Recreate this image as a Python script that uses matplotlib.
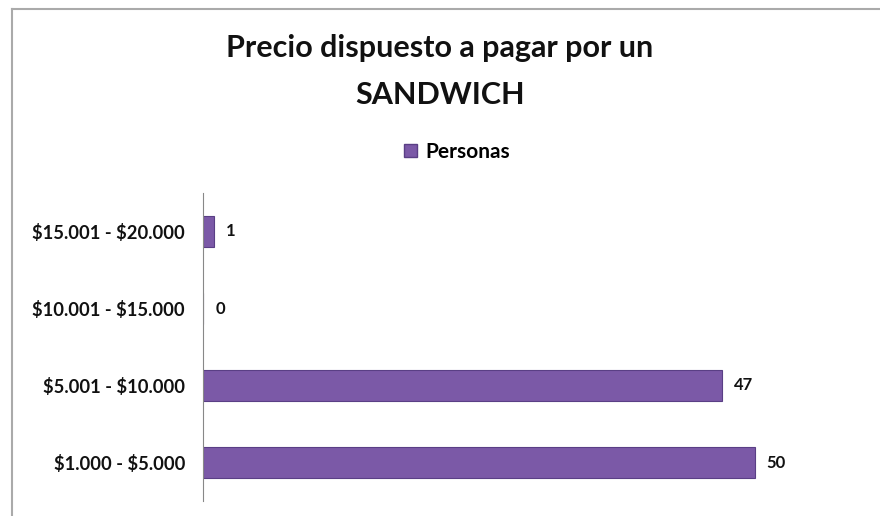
import matplotlib.pyplot as plt
from matplotlib.patches import Rectangle
from matplotlib.lines import Line2D

plt.rcParams["font.family"] = ["Lato", "DejaVu Sans"]

# data
categories = ["\\$1.000 - \\$5.000", "\\$5.001 - \\$10.000", "\\$10.001 - \\$15.000", "\\$15.001 - \\$20.000"]
personas = [50, 47, 0, 1]
series_name = "Personas"
title_lines = ["Precio dispuesto a pagar por un", "SANDWICH"]

bar_color = "#7b59a7"
edge_color = "#5a3f85"

fig = plt.figure(figsize=(8.8, 5.16), dpi=100)
ax = fig.add_axes([203 / 880, 15 / 516, (865 - 203) / 880, (501 - 193) / 516])

y = range(len(categories))
bars = ax.barh(y, personas, height=0.39, color=bar_color, edgecolor=edge_color, linewidth=0.8)

# value labels
for b, v in zip(bars, personas):
    ax.text(b.get_width() + 1.1, b.get_y() + b.get_height() / 2, str(v),
            va="center", ha="left", fontsize=12, fontweight="bold", color="#111111")

ax.set_xlim(0, 60)
ax.set_ylim(-0.5, 3.5)
ax.set_yticks(list(y))
ax.set_yticklabels(categories, fontsize=13.2, fontweight="bold", color="#111111")
ax.tick_params(axis="y", length=0, pad=13)
ax.set_xticks([])
for s in ["top", "right", "bottom"]:
    ax.spines[s].set_visible(False)
ax.spines["left"].set_color("#888888")
ax.spines["left"].set_linewidth(0.8)

# title (two lines, placed separately) & legend
fig.text(440 / 880, 1 - 48 / 516, title_lines[0], ha="center", va="center", fontsize=22,
         fontweight="bold", color="#111111")
fig.text(440 / 880, 1 - 95 / 516, title_lines[1], ha="center", va="center", fontsize=22,
         fontweight="bold", color="#111111")
handle = Rectangle((0, 0), 1, 1, facecolor=bar_color, edgecolor=edge_color)
fig.legend([handle], [series_name], loc="center", bbox_to_anchor=(457 / 880, 1 - 152 / 516),
           frameon=False, prop={"size": 15, "weight": "bold"}, handlelength=0.6,
           handleheight=0.6, handletextpad=0.4)

# chart frame
fig.add_artist(Line2D([12 / 880, 12 / 880], [0, 1 - 9 / 516], color="#aaaaaa", lw=1.5,
                      transform=fig.transFigure))
fig.add_artist(Line2D([12 / 880, 1], [1 - 9 / 516, 1 - 9 / 516], color="#aaaaaa", lw=1.5,
                      transform=fig.transFigure))

plt.savefig("out.png", dpi=100)
